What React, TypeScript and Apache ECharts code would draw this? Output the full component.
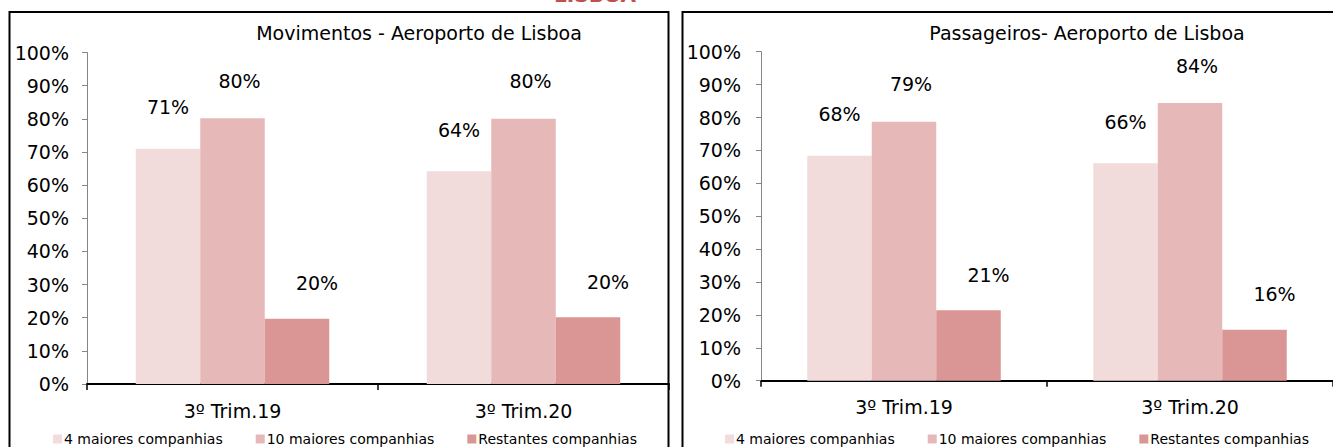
import React, { useEffect, useRef } from "react";
import * as echarts from "echarts";

const categories = ["3º Trim.19", "3º Trim.20"];
const seriesNames = ["4 maiores companhias", "10 maiores companhias", "Restantes companhias"];
const movTop4 = [71.0, 64.2];
const movTop10 = [80.2, 80.0];
const movRest = [19.7, 20.1];
const pasTop4 = [68.4, 66.1];
const pasTop10 = [78.7, 84.4];
const pasRest = [21.4, 15.5];
const yTicks = [0, 10, 20, 30, 40, 50, 60, 70, 80, 90, 100];
const titleLeft = "Movimentos - Aeroporto de Lisboa";
const titleRight = "Passageiros- Aeroporto de Lisboa";
const topTitle = "LISBOA";

const colors = ["#F2DCDB", "#E6B9B8", "#D99694"];
const labelDistance = [32, 28, 26];
const labelDx = [0, 7, 20];
const FONT = '"DejaVu Sans", Verdana, sans-serif';

export default function App() {
  const ref = useRef<HTMLDivElement>(null);
  useEffect(() => {
    document.body.style.margin = "0";
    const chart = echarts.init(ref.current!, null, { renderer: "svg" });

    const xAxisBase = (gridIndex: number) => ({
      type: "category",
      gridIndex,
      data: categories,
      axisLine: { lineStyle: { color: "#000", width: 2 } },
      axisTick: { show: true, length: 6, lineStyle: { color: "#000", width: 1.5 } },
      axisLabel: { color: "#000", fontSize: 19, fontFamily: FONT, margin: 17 },
      splitLine: { show: false },
    });
    const yAxisBase = (gridIndex: number, margin: number) => ({
      type: "value",
      gridIndex,
      min: 0,
      max: 100,
      interval: 10,
      axisLine: { show: true, lineStyle: { color: "#868686", width: 1 } },
      axisTick: { show: true, length: 5, lineStyle: { color: "#868686" } },
      splitLine: { show: false },
      axisLabel: {
        color: "#000",
        fontSize: 19,
        fontFamily: FONT,
        margin,
        formatter: (v: number) => (yTicks.includes(v) ? v + "%" : ""),
      },
    });

    const mkSeries = (data: number[], i: number, gi: number) => ({
      name: seriesNames[i],
      type: "bar",
      xAxisIndex: gi,
      yAxisIndex: gi,
      data,
      barWidth: 64.5,
      barGap: "0%",
      itemStyle: { color: colors[i] },
      label: {
        show: true,
        position: "top",
        distance: labelDistance[i],
        offset: [labelDx[i], 0],
        color: "#000",
        fontSize: 19,
        fontFamily: FONT,
        formatter: (p: any) => Math.round(p.value) + "%",
      },
    });

    const legendBase = (left: number) => ({
      left,
      top: 427,
      itemWidth: 9,
      itemHeight: 9,
      itemGap: 33,
      icon: "rect",
      data: seriesNames,
      textStyle: { color: "#000", fontSize: 14, fontFamily: FONT, padding: [0, 0, 0, -3] },
    });

    chart.setOption({
      animation: false,
      backgroundColor: "#fff",
      grid: [
        { left: 87, top: 52.5, width: 582, height: 331.5 },
        { left: 761, top: 51.7, width: 580, height: 329 },
      ],
      xAxis: [xAxisBase(0), xAxisBase(1)],
      yAxis: [yAxisBase(0, 18), yAxisBase(1, 20)],
      legend: [legendBase(48), legendBase(720)],
      series: [
        mkSeries(movTop4, 0, 0),
        mkSeries(movTop10, 1, 0),
        mkSeries(movRest, 2, 0),
        mkSeries(pasTop4, 0, 1),
        mkSeries(pasTop10, 1, 1),
        mkSeries(pasRest, 2, 1),
      ],
      graphic: [
        {
          type: "rect",
          shape: { x: 9.5, y: 12, width: 659, height: 460 },
          style: { fill: "none", stroke: "#000", lineWidth: 2 },
          silent: true,
        },
        {
          type: "rect",
          shape: { x: 682.5, y: 12, width: 680, height: 460 },
          style: { fill: "none", stroke: "#000", lineWidth: 2 },
          silent: true,
        },
        {
          type: "text",
          x: 419,
          y: 33,
          style: {
            text: titleLeft,
            font: `19px ${FONT}`,
            fill: "#000",
            align: "center",
            verticalAlign: "middle",
            textAlign: "center",
            textVerticalAlign: "middle",
          },
        },
        {
          type: "text",
          x: 1087,
          y: 33,
          style: {
            text: titleRight,
            font: `19px ${FONT}`,
            fill: "#000",
            align: "center",
            verticalAlign: "middle",
            textAlign: "center",
            textVerticalAlign: "middle",
          },
        },
        {
          type: "text",
          x: 595,
          y: -5,
          style: {
            text: topTitle,
            font: `bold 20px ${FONT}`,
            fill: "#C0504D",
            align: "center",
            verticalAlign: "middle",
            textAlign: "center",
            textVerticalAlign: "middle",
          },
        },
      ],
    });
    return () => chart.dispose();
  }, []);
  return <div ref={ref} style={{ width: 1333, height: 447 }} />;
}
